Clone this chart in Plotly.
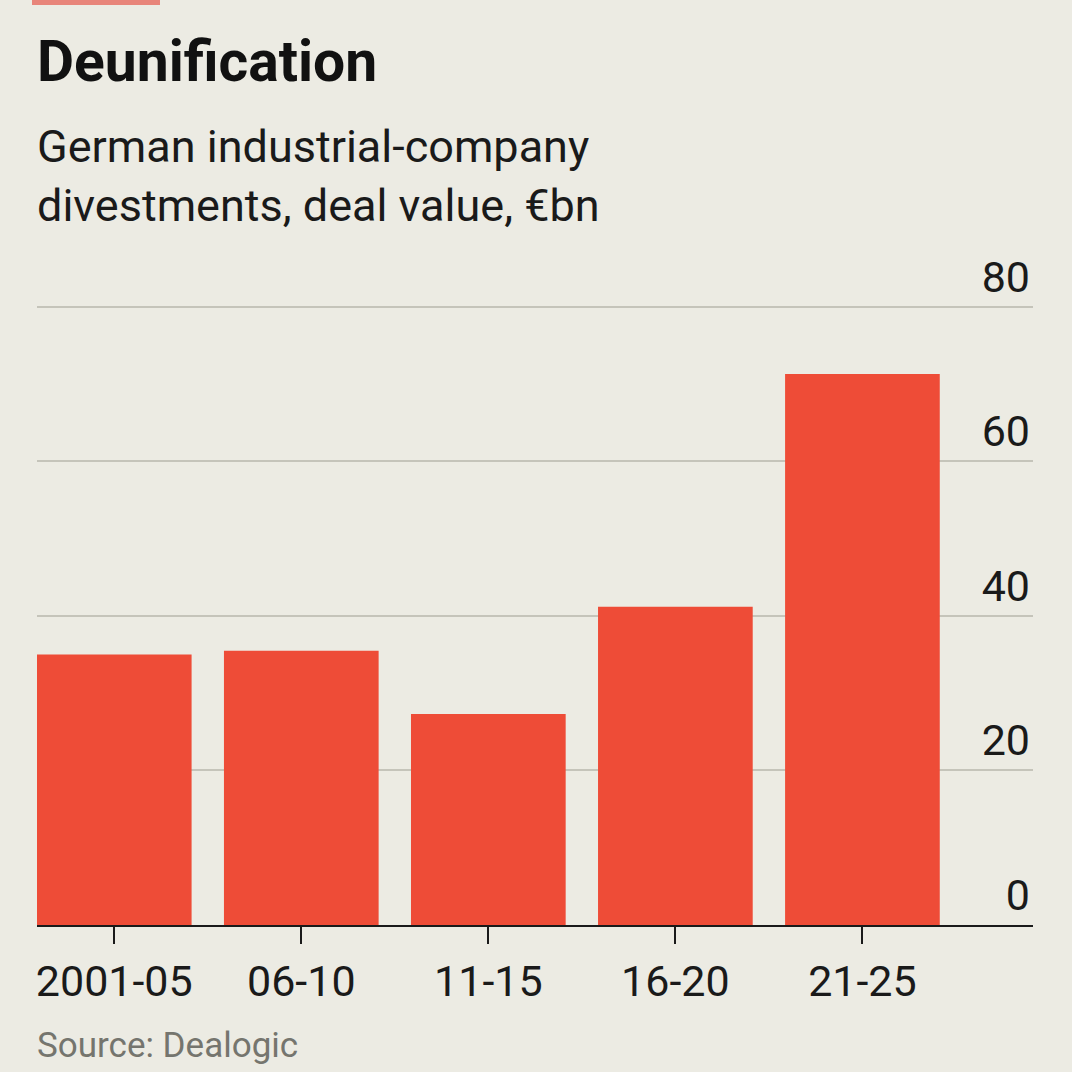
import plotly.graph_objects as go

categories = ["2001-05", "06-10", "11-15", "16-20", "21-25"]
values = [35.0, 35.5, 27.3, 41.2, 71.3]
y_ticks = [0, 20, 40, 60, 80]

BG = "#ECEBE3"
RED = "#EE4C37"
FONT = "Roboto"

W, H = 1072, 1072
L, R, T, B = 37, 39, 245, 147
plot_h = H - T - B
Y_MAX = 88

def py(pix):
    return (H - B - pix) / plot_h

def px(pix):
    return (pix - L) / (W - L - R)

fig = go.Figure(go.Bar(x=categories, y=values, marker_color=RED, marker_line_width=0))

fig.update_layout(
    width=W, height=H,
    margin=dict(l=L, r=R, t=T, b=B),
    paper_bgcolor=BG, plot_bgcolor=BG,
    bargap=0.173,
    showlegend=False,
    font=dict(family=FONT, color="#1a1a1a"),
)
fig.update_xaxes(
    type="category", range=[-0.413, 4.912],
    showline=True, linecolor="#1a1a1a", linewidth=2,
    ticks="outside", ticklen=17, tickwidth=2, tickcolor="#1a1a1a",
    tickfont=dict(size=43, family=FONT, color="#1a1a1a"),
    showgrid=False,
)
fig.update_yaxes(
    range=[0, Y_MAX], side="right", tickvals=y_ticks,
    ticklabelposition="inside top",
    tickfont=dict(size=43, family=FONT, color="#1a1a1a"),
    showgrid=True, gridcolor="#C5C4BA", gridwidth=2,
    zeroline=False, showline=False, ticks="",
)

anns = [
    dict(text="<b>Deunification</b>", x=px(35), y=py(26), size=57, color="#111111"),
    dict(text="German industrial-company<br>divestments, deal value, €bn", x=px(35), y=py(118), size=45, color="#1a1a1a"),
    dict(text="Source: Dealogic", x=px(35), y=py(1023), size=35, color="#75756E"),
]
for a in anns:
    fig.add_annotation(text=a["text"], x=a["x"], y=a["y"], xref="paper", yref="paper",
                       xanchor="left", yanchor="top", showarrow=False, align="left",
                       font=dict(size=a["size"], color=a["color"], family=FONT))

fig.add_shape(type="rect", xref="paper", yref="paper",
              x0=px(32), x1=px(160), y0=py(0), y1=py(5),
              fillcolor="#E8857A", line_width=0, layer="above")

fig.write_html("out.html", config={"displayModeBar": False},
               post_script="document.body.style.margin='0';document.body.style.background='%s';" % BG)
